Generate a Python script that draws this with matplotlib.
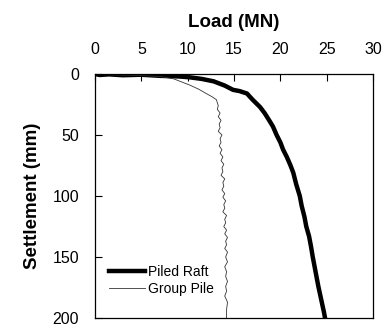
import matplotlib
matplotlib.use("Agg")
import matplotlib.pyplot as plt

plt.rcParams['font.family'] = ['Liberation Sans', 'DejaVu Sans']

# Piled Raft: load (MN) vs settlement (mm)
raft_load = [0.0, 0.5, 1.5, 3.0, 5.0, 7.0, 9.0, 10.2, 11.5, 12.8, 14.0, 14.9, 15.6,
             16.4, 17.0, 17.8, 18.3, 18.8, 19.2, 19.6, 20.0, 20.3, 20.7, 21.1, 21.4,
             21.7, 22.1, 22.3, 22.6, 22.8, 23.1, 23.3, 23.5, 23.7, 23.9, 24.1, 24.3,
             24.5, 24.7, 24.8]
raft_settle = [0.0, 0.8, 0.3, 1.0, 0.6, 1.5, 2.0, 2.7, 4.0, 6.0, 9.5, 13.0, 14.0,
               16.0, 21.0, 27.0, 32.0, 38.0, 43.0, 50.0, 56.0, 62.0, 68.0, 75.0, 81.0,
               90.0, 100.0, 108.0, 117.0, 125.0, 133.0, 141.0, 150.0, 158.0, 166.0,
               174.0, 181.0, 188.0, 195.0, 199.0]

# Group Pile: load (MN) vs settlement (mm)
group_load = [0.0, 1.0, 2.5, 4.0, 5.5, 7.0, 8.5, 10.2, 11.2, 12.0, 12.6, 13.1, 13.3,
              13.2, 13.5, 13.3, 13.6, 13.4, 13.5, 13.3, 13.7, 13.5, 13.6, 13.4, 13.7,
              13.5, 13.8, 13.6, 13.9, 13.7, 13.8, 13.6, 14.0, 13.8, 13.9, 13.7, 14.0,
              13.8, 14.1, 13.9, 14.0, 13.8, 14.2, 14.0, 14.1, 13.9, 14.2, 14.0, 14.3,
              14.1, 14.2, 14.0, 14.3, 14.1, 14.3, 14.0, 14.2, 14.1, 14.3, 14.1, 14.2,
              14.0, 14.3, 14.2, 14.2]
group_settle = [0.0, 0.5, 0.8, 1.0, 1.5, 2.0, 4.0, 9.0, 12.5, 16.0, 18.5, 21.0, 26.0,
                29.0, 32.0, 35.0, 38.0, 41.0, 44.0, 47.0, 50.0, 53.0, 56.0, 59.0, 62.0,
                65.0, 68.0, 71.0, 74.0, 77.0, 80.0, 83.0, 86.0, 89.0, 92.0, 95.0, 98.0,
                101.0, 104.0, 107.0, 110.0, 113.0, 116.0, 119.0, 122.0, 125.0, 128.0,
                131.0, 134.0, 137.0, 140.0, 143.0, 146.0, 150.0, 154.0, 158.0, 162.0,
                166.0, 170.0, 174.0, 178.0, 182.0, 187.0, 193.0, 200.0]

x_ticks = [0, 5, 10, 15, 20, 25, 30]
y_ticks = [0, 50, 100, 150, 200]

fig = plt.figure(figsize=(3.86, 3.34), dpi=100)
ax = fig.add_axes([95/386, 1-318/334, (373-95)/386, (318-74)/334])

ax.plot(raft_load, raft_settle, color='black', lw=3.2, label='Piled Raft', solid_joinstyle='round')
ax.plot(group_load, group_settle, color='#333333', lw=0.6, label='Group Pile')

ax.set_xlim(0, 30)
ax.set_ylim(200, 0)
ax.set_xticks(x_ticks)
ax.set_yticks(y_ticks)
ax.xaxis.tick_top()
ax.xaxis.set_label_position('top')
ax.tick_params(axis='x', direction='in', length=5, width=0.8, labelsize=11.5, pad=12.5)
ax.tick_params(axis='y', direction='in', length=5, width=0.8, labelsize=11.5, pad=11.5)
for s in ax.spines.values():
    s.set_linewidth(0.9)

ax.set_xlabel('Load (MN)', fontsize=13.5, fontweight='bold', labelpad=10.8)
ax.set_ylabel('Settlement (mm)', fontsize=13.5, fontweight='bold', labelpad=8)

ax.legend(loc='lower left', frameon=False, fontsize=10, handlelength=2.6,
          handletextpad=0.2, labelspacing=0.2, borderaxespad=0.3,
          bbox_to_anchor=(0.015, 0.05))

fig.savefig('out.png', dpi=100)
